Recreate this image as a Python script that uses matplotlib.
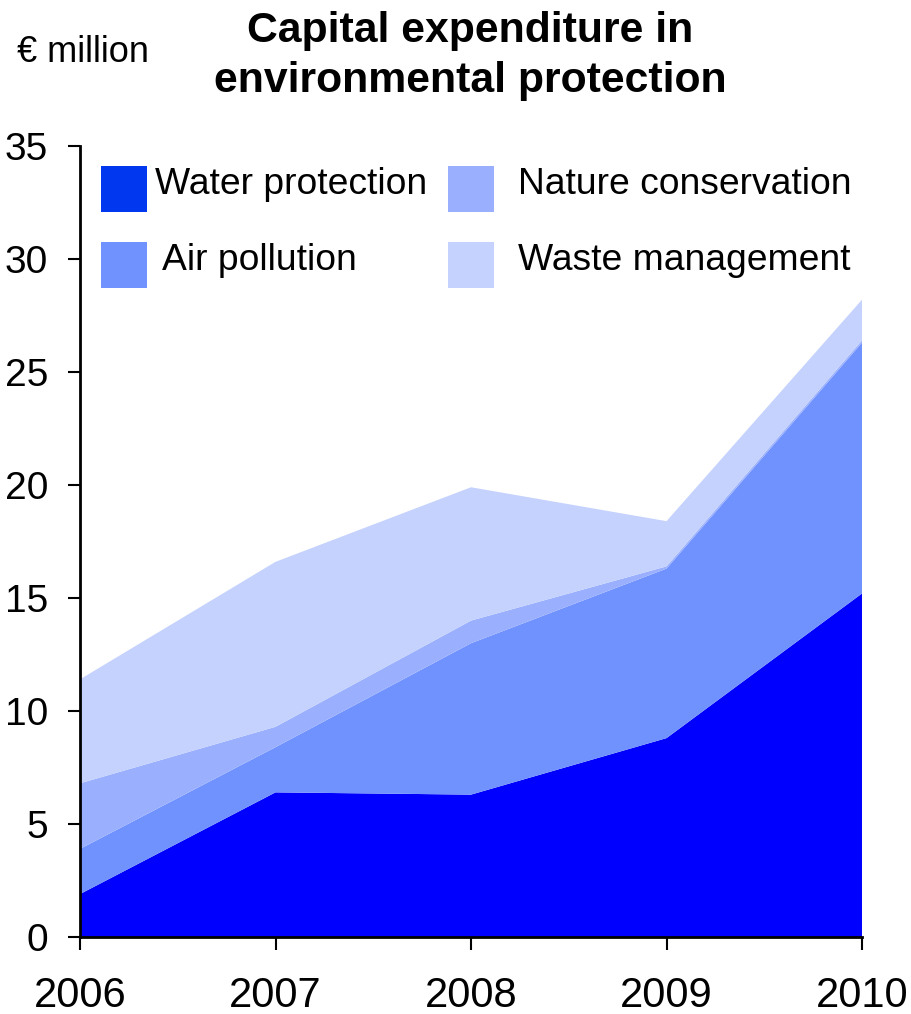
import matplotlib
matplotlib.use("Agg")
import matplotlib.pyplot as plt
from matplotlib.patches import Rectangle

plt.rcParams['font.family'] = ['Liberation Sans', 'DejaVu Sans']

years = [2006, 2007, 2008, 2009, 2010]
water = [1.9, 6.4, 6.3, 8.8, 15.2]
air = [2.0, 2.0, 6.7, 7.5, 11.1]
nature = [2.9, 0.9, 1.0, 0.1, 0.1]
waste = [4.6, 7.3, 5.9, 2.0, 1.8]

series = ["Water protection", "Air pollution", "Nature conservation", "Waste management"]
area_colors = ["#0000FF", "#7092FF", "#9AB0FF", "#C4D2FD"]
swatch_colors = ["#0037EF", "#7092FF", "#9AB0FF", "#C4D2FD"]

fig = plt.figure(figsize=(9.11, 10.14), dpi=100)
ax = fig.add_axes([80 / 911, 77 / 1014, 782 / 911, 791 / 1014])

ax.stackplot(years, water, air, nature, waste, colors=area_colors,
             linewidth=0)

ax.set_xlim(2006, 2010)
ax.set_ylim(0, 35)
ax.set_xticks(years)
ax.set_xticklabels([str(y) for y in years])
ax.set_yticks(range(0, 36, 5))

for s in ["top", "right"]:
    ax.spines[s].set_visible(False)
for s in ["left", "bottom"]:
    ax.spines[s].set_linewidth(2)
    ax.spines[s].set_color("black")

ax.tick_params(axis="x", direction="out", length=9, width=1.5, labelsize=30, pad=19)
ax.tick_params(axis="y", direction="out", length=9, width=1.5, labelsize=28, pad=14)

# legend: swatches and labels placed in figure pixel positions
def px(x, y):
    return x / 911, 1 - y / 1014

legend_items = [
    (series[0], swatch_colors[0], 101, 166, 155),
    (series[2], swatch_colors[2], 448, 166, 518),
    (series[1], swatch_colors[1], 101, 242, 162),
    (series[3], swatch_colors[3], 448, 242, 518),
]
for label, col, sx, sy, tx in legend_items:
    x0, y1 = px(sx, sy + 46)
    fig.patches.append(Rectangle((x0, y1), 46 / 911, 46 / 1014, transform=fig.transFigure,
                                 facecolor=col, edgecolor="none"))
    tx0, ty = px(tx, sy + 19)
    fig.text(tx0, ty, label, fontsize=26.8, ha="left", va="center")

fig.text(470 / 911, 1 - 56 / 1014, "Capital expenditure in\nenvironmental protection",
         fontsize=30.8, fontweight="bold", ha="center", va="center", linespacing=1.32)
fig.text(17 / 911, 1 - 53 / 1014, "€ million", fontsize=26, ha="left", va="center")

fig.savefig("out.png", dpi=100)
